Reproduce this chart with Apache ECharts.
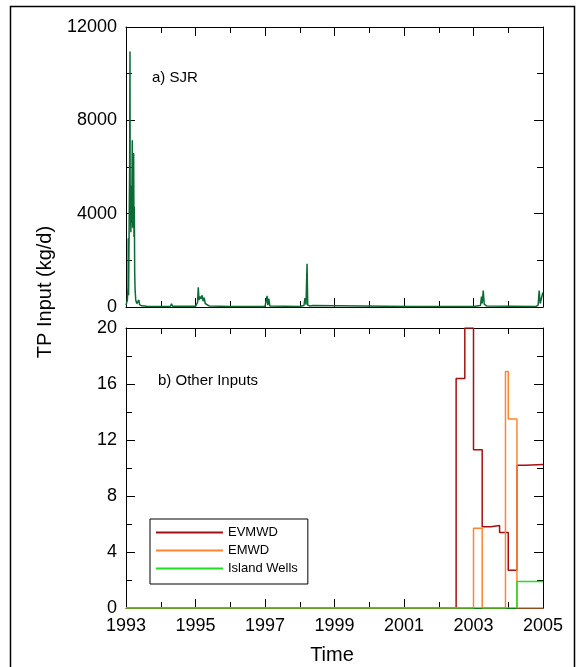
<!DOCTYPE html>
<html>
<head>
<meta charset="utf-8">
<title>TP Input</title>
<script src="https://cdn.jsdelivr.net/npm/echarts@6/dist/echarts.min.js"></script>
<style>
html, body { margin: 0; padding: 0; background: #fff; }
#main { width: 580px; height: 667px; }
</style>
</head>
<body>
<div id="main"></div>
<script>
// x axis runs in years after 1993 so the 2-year labels line up with the ticks
var T0 = 1993
var FONT = 'Liberation Sans, Arial, sans-serif'

// a) SJR, kg/d (read off the daily trace)
var sjrT = [1993.00, 1993.04, 1993.06, 1993.065, 1993.075, 1993.085, 1993.095, 1993.105, 1993.115, 1993.12,
    1993.13, 1993.14, 1993.15, 1993.16, 1993.17, 1993.18, 1993.19, 1993.20, 1993.21, 1993.22,
    1993.23, 1993.24, 1993.25, 1993.26, 1993.28, 1993.31, 1993.35, 1993.37, 1993.39, 1993.45,
    1993.60, 1994.00, 1994.28, 1994.31, 1994.34, 1995.00, 1995.06, 1995.08, 1995.10, 1995.13, 1995.16,
    1995.19, 1995.22, 1995.25, 1995.28, 1995.32, 1995.40, 1996.00, 1997.00, 1997.04, 1997.06, 1997.08,
    1997.11, 1997.14, 1998.00, 1998.12, 1998.15, 1998.18, 1998.21, 1998.23, 1998.30, 1998.38, 1998.42,
    2001.20, 2001.22, 2001.25, 2003.00, 2003.20, 2003.23, 2003.25, 2003.28, 2003.31, 2003.34, 2003.38,
    2004.80, 2004.86, 2004.89, 2004.92, 2004.95, 2004.97, 2004.995, 2005.00]
var sjrV = [80, 300, 900, 2950, 500, 2500, 4200, 6000, 10950, 3800,
    4600, 3200, 5200, 3600, 4800, 7150, 3400, 5600, 4200, 6600,
    3000, 4300, 1500, 800, 300, 150, 120, 300, 100, 50,
    30, 25, 30, 140, 30, 30, 200, 850, 300, 450, 350,
    500, 250, 400, 150, 80, 40, 25, 25, 60, 480, 80,
    360, 40, 25, 60, 380, 100, 1850, 80, 40, 60, 25,
    25, 70, 25, 25, 60, 450, 150, 700, 120, 180, 40,
    25, 80, 700, 150, 230, 80, 620, 600]

// b) Other Inputs, kg/d, values hold until the next time
var evmwdT = [1993, 2002.5, 2002.75, 2003.0, 2003.25, 2003.5, 2003.75, 2004.0, 2004.25, 2004.5, 2005]
var evmwdV = [0, 16.4, 20, 11.3, 5.8, 5.9, 5.4, 2.7, 10.2, 10.25, 10.25]
var emwdT = [1993, 2003.0, 2003.25, 2003.92, 2004.0, 2004.25, 2005]
var emwdV = [0, 5.7, 0, 16.9, 13.5, 0, 0]
var wellsT = [1993, 2004.25, 2005]
var wellsV = [0, 1.9, 1.9]

var seriesNames = ['EVMWD', 'EMWD', 'Island Wells']

function pairs(t, v) {
    return t.map(function (x, i) { return [x - T0, v[i]] })
}

function xAx(grid, pos, showLabel) {
    return {
        type: 'value', gridIndex: grid, position: pos, min: 0, max: 12, interval: 2,
        axisLine: { show: true, onZero: false, lineStyle: { color: '#000', width: 1 } },
        axisTick: { show: true, inside: true, length: 9, lineStyle: { color: '#000', width: 1 } },
        minorTick: { show: true, splitNumber: 2, length: 6, lineStyle: { color: '#000', width: 1 } },
        splitLine: { show: false },
        minorSplitLine: { show: false },
        axisLabel: {
            show: showLabel, margin: 9, color: '#000', fontSize: 18, fontFamily: FONT,
            formatter: function (v) { return String(v + T0) }
        }
    }
}

function yAx(grid, pos, max, step, showLabel) {
    return {
        type: 'value', gridIndex: grid, position: pos, min: 0, max: max, interval: step,
        axisLine: { show: true, onZero: false, lineStyle: { color: '#000', width: 1 } },
        axisTick: { show: true, inside: true, length: 9, lineStyle: { color: '#000', width: 1 } },
        minorTick: { show: true, splitNumber: 2, length: 6, lineStyle: { color: '#000', width: 1 } },
        splitLine: { show: false },
        minorSplitLine: { show: false },
        axisLabel: {
            show: showLabel, margin: 9, color: '#000', fontSize: 18, fontFamily: FONT,
            formatter: function (v) { return String(v) }
        }
    }
}

function stepLine(name, t, v, color) {
    return {
        name: name, type: 'line', step: 'end', xAxisIndex: 2, yAxisIndex: 2,
        symbol: 'none', animation: false,
        lineStyle: { color: color, width: 1.5 },
        itemStyle: { color: color },
        data: pairs(t, v)
    }
}

var myChart = echarts.init(document.getElementById('main'))
var option = {
    backgroundColor: '#fff',
    animation: false,
    textStyle: { fontFamily: FONT },
    grid: [
        { left: 126, top: 27, width: 417, height: 280, outerBoundsMode: 'none', containLabel: false },
        { left: 126, top: 328, width: 417, height: 280, outerBoundsMode: 'none', containLabel: false }
    ],
    xAxis: [xAx(0, 'bottom', false), xAx(0, 'top', false), xAx(1, 'bottom', true), xAx(1, 'top', false)],
    yAxis: [yAx(0, 'left', 12000, 4000, true), yAx(0, 'right', 12000, 4000, false),
        yAx(1, 'left', 20, 4, true), yAx(1, 'right', 20, 4, false)],
    legend: {
        data: seriesNames,
        orient: 'vertical',
        left: 150, top: 519,
        padding: [7, 10, 9, 6],
        itemGap: 5,
        itemWidth: 67, itemHeight: 2,
        icon: 'rect',
        borderColor: '#000', borderWidth: 1,
        backgroundColor: '#fff',
        selectedMode: false,
        textStyle: { color: '#000', fontSize: 13, fontFamily: FONT }
    },
    graphic: [
        { type: 'rect', silent: true, shape: { x: 10.5, y: 6.5, width: 564, height: 665 },
          style: { fill: 'none', stroke: '#000', lineWidth: 1.5 } },
        { type: 'text', silent: true, x: 45, y: 292, rotation: Math.PI / 2,
          style: { text: 'TP Input (kg/d)', fontSize: 20, fontFamily: FONT, fill: '#000', align: 'center', verticalAlign: 'middle' } },
        { type: 'text', silent: true, x: 332, y: 655,
          style: { text: 'Time', fontSize: 20, fontFamily: FONT, fill: '#000', align: 'center', verticalAlign: 'middle' } },
        { type: 'text', silent: true, x: 152, y: 78,
          style: { text: 'a) SJR', fontSize: 15, fontFamily: FONT, fill: '#000', align: 'left', verticalAlign: 'middle' } },
        { type: 'text', silent: true, x: 158, y: 381,
          style: { text: 'b) Other Inputs', fontSize: 15, fontFamily: FONT, fill: '#000', align: 'left', verticalAlign: 'middle' } }
    ],
    series: [
        {
            name: 'SJR', type: 'line', xAxisIndex: 0, yAxisIndex: 0,
            symbol: 'none',
            lineStyle: { color: '#0b6b35', width: 1.5 },
            itemStyle: { color: '#0b6b35' },
            data: pairs(sjrT, sjrV)
        },
        stepLine(seriesNames[0], evmwdT, evmwdV, '#a50f0f'),
        stepLine(seriesNames[1], emwdT, emwdV, '#ff8533'),
        stepLine(seriesNames[2], wellsT, wellsV, '#22dd22')
    ]
}
myChart.setOption(option)
window.addEventListener('resize', function () {
    myChart.resize()
})
</script>
</body>
</html>
